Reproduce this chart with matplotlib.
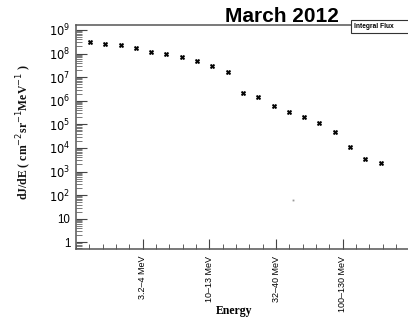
import numpy as np
import matplotlib
matplotlib.use("Agg")
import matplotlib.pyplot as plt
from matplotlib.ticker import FixedLocator, FixedFormatter, LogLocator, NullFormatter
from matplotlib.patches import Rectangle

# ---- data ----
flux = [3.0e8, 2.6e8, 2.35e8, 1.65e8, 1.13e8, 9.3e7, 6.9e7, 4.8e7, 3.0e7, 1.65e7,
        2.2e6, 1.5e6, 6.2e5, 3.4e5, 2.0e5, 1.1e5, 4.9e4, 1.07e4, 3.5e3, 2.2e3]
bins = list(range(len(flux)))
stray_x = [13.3]
stray_y = [62]
tick_labels = ["3.2\u20134 MeV", "10\u201313 MeV", "32\u201340 MeV", "100\u2013130 MeV"]
tick_pos = [3.44, 7.80, 12.16, 16.51]
ytick_vals = [1, 10, 1e2, 1e3, 1e4, 1e5, 1e6, 1e7, 1e8, 1e9]
ytick_labels = ["1", "10", "$10^{2}$", "$10^{3}$", "$10^{4}$", "$10^{5}$",
                "$10^{6}$", "$10^{7}$", "$10^{8}$", "$10^{9}$"]
title = "March 2012"
legend_text = "Integral Flux"

W, H = 408, 322
fig = plt.figure(figsize=(W / 100, H / 100), dpi=100)
L, R, B, T = 76, 420, 249, 25
ax = fig.add_axes([L / W, (H - B) / H, (R - L) / W, (B - T) / H])

sans = ["Liberation Sans", "DejaVu Sans"]
serif = ["Liberation Serif", "DejaVu Serif"]

ax.plot(bins, flux, linestyle="none", marker="X", markersize=3.4,
        color="black", markeredgewidth=0.3)
ax.plot(stray_x, stray_y, linestyle="none", marker="s", markersize=1.3,
        color="#999999", markeredgewidth=0)

ax.set_yscale("log")
ax.set_ylim(10 ** -0.28, 10 ** 9.21)
ax.set_xlim(-0.915, (R - 90) / 15.3)

ax.yaxis.set_major_locator(FixedLocator(ytick_vals))
ax.yaxis.set_major_formatter(FixedFormatter(ytick_labels))
ax.yaxis.set_minor_locator(LogLocator(base=10, subs=np.arange(2, 10), numticks=30))
ax.yaxis.set_minor_formatter(NullFormatter())

minor_step = 0.8714
ax.xaxis.set_major_locator(FixedLocator(tick_pos))
ax.xaxis.set_major_formatter(FixedFormatter(tick_labels))
ax.xaxis.set_minor_locator(FixedLocator(list(-0.915 + minor_step * np.arange(0, 30))))

ax.tick_params(axis="both", which="both", direction="in", colors="#444444")
ax.tick_params(axis="y", which="major", length=8, width=0.8, pad=4, labelsize=8.3,
               labelcolor="black")
ax.tick_params(axis="y", which="minor", length=4, width=0.5)
ax.tick_params(axis="x", which="major", length=7, width=0.8, pad=5, labelsize=6.5,
               labelrotation=90, labelcolor="black")
ax.tick_params(axis="x", which="minor", length=3.5, width=0.6)
ax.tick_params(top=False, right=False)
for lab in ax.get_xticklabels() + ax.get_yticklabels():
    lab.set_family(sans)

for s in ["left", "bottom", "top"]:
    ax.spines[s].set_color("#555555")
    ax.spines[s].set_linewidth(1.1)
ax.spines["right"].set_visible(False)

fig.text(24 / W, 1 - 132 / H,
         "dJ/dE ( cm$^{-2}$sr$^{-1}$MeV$^{-1}$ )",
         rotation=90, ha="center", va="center", family=serif,
         fontweight="bold", fontsize=8.5, color="#111111")
fig.text(234 / W, 1 - 311 / H, "Energy", ha="center", va="center",
         family=serif, fontweight="bold", fontsize=8.5)
fig.text(282 / W, 1 - 16 / H, title, ha="center", va="center",
         family=sans, fontweight="bold", fontsize=15)

rect = Rectangle((351 / W, 1 - 33 / H), 80 / W, 13 / H, transform=fig.transFigure,
                 facecolor="white", edgecolor="#333333", linewidth=0.8, zorder=10)
fig.add_artist(rect)
fig.text(354 / W, 1 - 27 / H, legend_text, ha="left", va="center",
         family=sans, fontweight="bold", fontsize=4.8, zorder=11)

fig.savefig("out.png", dpi=100)
